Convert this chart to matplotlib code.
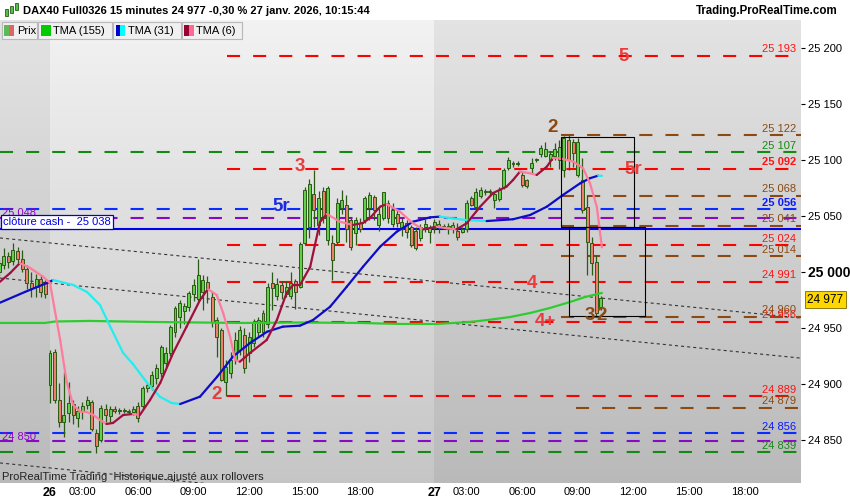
import numpy as np
import matplotlib
matplotlib.use("Agg")
import matplotlib.pyplot as plt
from matplotlib.patches import Rectangle
from matplotlib.collections import LineCollection

plt.rcParams['font.family'] = ['Liberation Sans', 'DejaVu Sans']
plt.rcParams['lines.scale_dashes'] = False

# ---------------- data ----------------
first_bar = -11
opens = [25000, 25006, 25014, 25010, 25019, 25012, 25003, 24990, 24987, 24994, 24990,
         24899, 24929, 24886, 24866, 24874, 24882, 24870, 24876, 24881, 24884, 24856,
         24850, 24878, 24871, 24878, 24876, 24877, 24876, 24875, 24880, 24880, 24896,
         24898, 24905, 24910, 24919, 24928, 24946, 24960, 24965, 24969, 24980, 24976,
         24982, 24991, 24978, 24957, 24948, 24902, 24910, 24921, 24930, 24944, 24928,
         24937, 24946, 24946, 24954, 24990, 24979, 24988, 24980, 24979, 24992, 24987,
         25026, 25040, 25070, 25042, 25072, 25029, 25026, 25027, 25057, 25060, 25046,
         25035, 25044, 25046, 25057, 25067, 25042, 25048, 25062, 25043, 25052, 25038,
         25044, 25040, 25037, 25030, 25040, 25036, 25039, 25043, 25040, 25041, 25038,
         25037, 25036, 25038, 25066, 25058, 25068, 25072, 25071, 25064, 25065, 25076,
         25093, 25096, 25097, 25087, 25082, 25093, 25100, 25105, 25104, 25100, 25104,
         25100, 25091, 25118, 25116, 25087, 25082, 25058, 25026, 25009, 24969]
highs = [25012, 25021, 25018, 25026, 25022, 25020, 25006, 25000, 24998, 24997, 24993,
         24930, 24931, 24901, 24911, 24902, 24886, 24880, 24884, 24889, 24886, 24860,
         24881, 24882, 24880, 24880, 24879, 24879, 24878, 24880, 24884, 24898, 24901,
         24912, 24918, 24935, 24933, 24953, 24970, 24975, 24972, 24983, 24994, 25012,
         24997, 24996, 24982, 24960, 24950, 24921, 24929, 24946, 24952, 24950, 24946,
         24958, 24960, 24966, 24990, 25000, 24995, 24992, 24992, 25000, 24994, 25027,
         25076, 25083, 25091, 25072, 25076, 25077, 25033, 25066, 25073, 25069, 25049,
         25049, 25048, 25068, 25071, 25069, 25058, 25071, 25064, 25062, 25056, 25048,
         25046, 25042, 25040, 25043, 25047, 25042, 25047, 25046, 25043, 25044, 25045,
         25044, 25040, 25064, 25068, 25075, 25076, 25074, 25074, 25071, 25076, 25093,
         25103, 25099, 25099, 25089, 25083, 25102, 25102, 25113, 25116, 25108, 25115,
         25118, 25121, 25122, 25119, 25120, 25102, 25069, 25031, 25015, 24979]
lows = [24996, 25003, 25004, 25006, 25008, 25000, 24985, 24978, 24978, 24978, 24977,
        24883, 24883, 24862, 24853, 24866, 24864, 24862, 24869, 24878, 24858, 24838,
        24848, 24866, 24866, 24874, 24873, 24874, 24873, 24872, 24866, 24878, 24893,
        24895, 24900, 24906, 24915, 24925, 24942, 24950, 24954, 24965, 24974, 24974,
        24966, 24972, 24951, 24924, 24903, 24889, 24905, 24918, 24926, 24910, 24920,
        24933, 24942, 24942, 24950, 24966, 24975, 24976, 24978, 24976, 24967, 24986,
        25024, 25030, 25040, 25033, 25044, 25024, 24993, 25024, 25052, 25027, 25020,
        25024, 25036, 25044, 25046, 25046, 25037, 25046, 25044, 25040, 25040, 25032,
        25030, 25022, 25020, 25028, 25036, 25026, 25035, 25035, 25038, 25034, 25035,
        25029, 25035, 25036, 25059, 25054, 25066, 25069, 25068, 25057, 25063, 25074,
        25091, 25094, 25095, 25076, 25075, 25088, 25098, 25103, 25103, 25094, 25100,
        25092, 25085, 25091, 25094, 25085, 25053, 24997, 24997, 24960, 24966]
closes = [25008, 25014, 25009, 25020, 25012, 25003, 24990, 24986, 24994, 24982, 24980,
          24928, 24886, 24866, 24872, 24883, 24872, 24876, 24880, 24886, 24860, 24845,
          24879, 24872, 24878, 24876, 24877, 24876, 24875, 24878, 24870, 24896, 24899,
          24908, 24914, 24933, 24928, 24951, 24968, 24972, 24970, 24981, 24988, 24997,
          24993, 24986, 24955, 24942, 24904, 24915, 24921, 24939, 24948, 24914, 24942,
          24955, 24957, 24963, 24987, 24986, 24989, 24982, 24987, 24990, 24982, 25025,
          25073, 25079, 25055, 25066, 25048, 25075, 25011, 25062, 25064, 25038, 25022,
          25046, 25038, 25066, 25069, 25055, 25052, 25071, 25048, 25055, 25044, 25045,
          25036, 25024, 25021, 25040, 25043, 25039, 25045, 25040, 25041, 25038, 25042,
          25031, 25038, 25062, 25060, 25071, 25073, 25071, 25072, 25070, 25073, 25091,
          25100, 25097, 25096, 25078, 25077, 25097, 25101, 25111, 25110, 25105, 25110,
          25112, 25120, 25100, 25106, 25116, 25055, 25027, 25008, 24963, 24977]

tma155_x = [-10.8, -1.1, 1.1, 8.6, 21.6, 41.0, 54.0, 67.0, 75.6, 83.6, 90.7, 94.4,
            99.4, 103.7, 108.0, 112.3, 115.6, 119.2]
tma155_y = [24954.5, 24954.5, 24955.8, 24956.3, 24955.4, 24954.5, 24954.9, 24954.5,
            24953.6, 24953.6, 24955.4, 24957.1, 24959.8, 24963.4, 24967.9, 24973.2,
            24977.7, 24981.3]

tma31_x = [-10.8, -5.4, 0.0, 0.65, 5.0, 8.0, 10.8, 13.0, 15.8, 17.9, 21.0, 23.8, 26.3,
           28.1, 32.4, 36.1, 39.5, 43.2, 46.9, 50.3, 54.0, 56.8, 60.5, 64.1, 67.6, 71.3,
           74.9, 78.4, 82.1, 84.2, 87.0, 90.0, 94.3, 100.0, 103.7, 107.3, 110.8, 114.5,
           116.6, 118.4, 119.2]
tma31_y = [24972.6, 24982.2, 24991.3, 24992.9, 24988.4, 24982.1, 24970.5, 24951.2,
           24927.7, 24917.9, 24900.9, 24888.4, 24883.0, 24882.1, 24888.7, 24906.5,
           24924.4, 24936.6, 24946.7, 24951.2, 24952.1, 24957.1, 24969.0, 24986.9,
           25004.7, 25022.6, 25036.0, 25044.9, 25048.8, 25049.4, 25047.8, 25046.4,
           25045.5, 25047.1, 25050.9, 25058.3, 25068.8, 25079.2, 25083.7, 25086.0,
           25085.8]

tma6_x = [-10.8, -8.6, -6.5, -4.3, -1.5, 0.0, 1.1, 2.2, 3.6, 5.0, 6.5, 7.9, 9.3, 10.8,
          12.2, 13.6, 15.8, 17.9, 19.4, 21.6, 23.8, 26.6, 29.5, 32.4, 34.1, 36.0, 37.4,
          38.9, 40.0, 41.0, 43.2, 46.8, 49.0, 51.1, 52.5, 54.0, 56.2, 58.3, 59.8, 62.6,
          65.4, 67.6, 69.1, 71.3, 72.7, 75.6, 78.4, 80.6, 83.5, 85.7, 87.8, 90.0, 92.9,
          95.7, 98.6, 100.0, 101.5, 103.7, 105.1, 107.3, 108.6, 110.2, 113.0, 115.1,
          116.6, 118.1, 119.2]
tma6_y = [24991.3, 24999.1, 25008.0, 25003.6, 24995.8, 24990.2, 24964.3, 24939.3,
          24901.8, 24881.3, 24875.3, 24875.0, 24872.5, 24867.9, 24864.3, 24865.2,
          24872.3, 24873.2, 24872.3, 24885.7, 24900.9, 24927.7, 24951.2, 24975.0,
          24984.8, 24979.5, 24963.4, 24942.2, 24921.4, 24919.9, 24927.7, 24939.3,
          24957.1, 24981.3, 24988.4, 24988.4, 25004.7, 25044.6, 25051.8, 25044.9,
          25042.0, 25043.8, 25048.2, 25058.3, 25060.7, 25053.8, 25043.5, 25038.1,
          25040.4, 25039.0, 25038.1, 25043.5, 25058.3, 25070.5, 25076.2, 25082.1,
          25089.6, 25088.1, 25086.6, 25094.0, 25101.8, 25101.5, 25098.5, 25092.9,
          25079.5, 25058.3, 25022.0]

full_levels = [25107, 25056, 25048, 24856, 24849.5, 24839]
full_colors = ['#138a13', '#0a2cff', '#8a08c8', '#0a2cff', '#8a08c8', '#138a13']
red_levels = [25193, 25092, 25024, 24991, 24955.6, 24889]
red_start = 38.2
brown_levels = [25122, 25068, 25041, 25014, 24960, 24879]
brown_starts = [110.3, 110.3, 110.3, 110.3, 110.3, 113.5]
cash_close = 25038
current_price = 24977

right_labels = [(25193, '25 193', 'red', False), (25122, '25 122', 'brown', False),
                (25107, '25 107', 'green', False), (25092, '25 092', 'red', True),
                (25068, '25 068', 'brown', False), (25056, '25 056', 'blue', True),
                (25041, '25 041', 'brown', False), (25024, '25 024', 'red', False),
                (25014, '25 014', 'brown', False), (24991, '24 991', 'red', False),
                (24955.6, '24 956', 'red', False), (24960, '24 960', 'brown', False),
                (24889, '24 889', 'red', False), (24879, '24 879', 'brown', False),
                (24856, '24 856', 'blue', False), (24839, '24 839', 'green', False)]
left_labels = [(25056, '25 048'), (24856, '24 850')]

trend_starts = [25030.4, 24994.6, 24829.5]
trend_ends = [24958.9, 24923.1, 24758.0]

rects = [(110.3, 25040.5, 126.2, 25120.3), (112.2, 24960.7, 128.4, 25040.5)]

wave_labels = [('5', 124.0, 25192.5, 'red'), ('2', 108.6, 25128.6, 'brown'),
               ('5r', 125.9, 25091.7, 'red'), ('3', 54.0, 25094.6, 'red'),
               ('5r', 50.0, 25058.3, 'blue'), ('4', 104.0, 24989.9, 'red'),
               ('4+', 106.9, 24955.6, 'red'), ('2', 36.0, 24890.2, 'red'),
               ('3', 116.6, 24961.6, 'brown'), ('2', 119.2, 24961.6, 'brown')]

xtick_bars = [0, 7, 19, 31, 43, 55, 67, 83, 90, 102, 114, 126, 138, 150]
xtick_labels = ['26', '03:00', '06:00', '09:00', '12:00', '15:00', '18:00',
                '27', '03:00', '06:00', '09:00', '12:00', '15:00', '18:00']
ytick_vals = [24850, 24900, 24950, 25000, 25050, 25100, 25150, 25200]
ytick_labels = ['24 850', '24 900', '24 950', '25 000', '25 050', '25 100', '25 150', '25 200']

# ---------------- styles ----------------
LABEL_COL = {'red': '#ff1414', 'brown': '#8b4a12', 'green': '#138a13', 'blue': '#0a1aff'}
WAVE_COL = {'red': '#ea3c3c', 'brown': '#8b4a12', 'blue': '#1a2ae0'}
DASH = (9.4, 9.4)

W, H = 850, 500
fig = plt.figure(figsize=(8.5, 5), dpi=100, facecolor='white')

def fx(px):
    return px / W

def fy(py):
    return 1 - py / H

XMIN, XMAX = -10.8, 162.2
YMIN, YMAX = 24811.6, 25225.0
ax = fig.add_axes([0, fy(483), fx(801), (483 - 20) / H])

# background gradient
g = np.linspace(0.95, 0.775, 200)[:, None]
img = np.repeat(g[:, :, None], 3, axis=2)
ax.imshow(img, extent=[XMIN, XMAX, YMIN, YMAX], aspect='auto', origin='upper',
          zorder=0, interpolation='bilinear')
ax.axvspan(XMIN, 0, color='black', alpha=0.06, lw=0, zorder=0.5)
ax.axvspan(83, XMAX, color='black', alpha=0.06, lw=0, zorder=0.5)

# trend lines
for a, b in zip(trend_starts, trend_ends):
    ax.plot([XMIN, XMAX], [a, b], color='#333333', lw=0.8, dashes=(2.2, 2.2), zorder=2)

# level lines
for p, col in zip(full_levels, full_colors):
    ax.plot([XMIN, XMAX], [p, p], color=col, lw=1.5, dashes=DASH, zorder=2.5)
for p in red_levels:
    ax.plot([red_start, XMAX], [p, p], color='#ff0000', lw=1.5, dashes=DASH, zorder=2.5)
for p, s in zip(brown_levels, brown_starts):
    ax.plot([s, XMAX], [p, p], color='#8b4a12', lw=1.5, dashes=DASH, zorder=2.5)
ax.plot([XMIN, XMAX], [cash_close, cash_close], color='#0000ee', lw=1.5, zorder=2.6)

# candles
o = np.array(opens, float)
hh = np.array(highs, float)
ll = np.array(lows, float)
c = np.array(closes, float)
bars = np.arange(first_bar, first_bar + len(o))
up = c >= o
ax.vlines(bars, ll, hh, color='#2b5a14', lw=0.9, zorder=3)
body_bottom = np.minimum(o, c)
body_h = np.maximum(np.abs(c - o), 0.9)
ax.bar(bars, body_h, bottom=body_bottom, width=0.64,
       color=np.where(up, '#62d04c', '#ef7f6c'), edgecolor='#2b5a14',
       linewidth=0.7, zorder=3.2)

# TMA lines
def colored_line(xs, ys, cu, cd, lw, z):
    xs = np.asarray(xs, float)
    ys = np.asarray(ys, float)
    pts = np.column_stack([xs, ys])
    segs = np.stack([pts[:-1], pts[1:]], axis=1)
    cols = [cu if ys[i + 1] >= ys[i] else cd for i in range(len(ys) - 1)]
    lc = LineCollection(segs, colors=cols, linewidths=lw, capstyle='round',
                        joinstyle='round', zorder=z)
    ax.add_collection(lc)

ax.plot(tma155_x, tma155_y, color='#2ecc2e', lw=1.6, zorder=4, solid_capstyle='round')
colored_line(tma31_x, tma31_y, '#0c0cc8', '#22eef0', 1.6, 4.1)
colored_line(tma6_x, tma6_y, '#a0103c', '#ff7b9c', 1.6, 4.2)

# rectangles
for x0, y0, x1, y1 in rects:
    ax.add_patch(Rectangle((x0, y0), x1 - x0, y1 - y0, fill=False,
                           edgecolor='black', lw=0.8, zorder=5))

# wave labels
for t, xb, yp, col in wave_labels:
    ax.text(xb, yp, t, color=WAVE_COL[col], fontsize=13.5, fontweight='bold',
            ha='center', va='center', zorder=6)

# right-side level labels
for p, t, col, bold in right_labels:
    ax.annotate(t, xy=(0.994, p), xycoords=('axes fraction', 'data'),
                xytext=(0, 2.6), textcoords='offset points', ha='right', va='baseline',
                color=LABEL_COL[col], fontsize=8, fontweight='bold' if bold else 'normal',
                zorder=6)
for p, t in left_labels:
    ax.annotate(t, xy=(0.0, p), xycoords=('axes fraction', 'data'),
                xytext=(1.5, -2.5), textcoords='offset points', ha='left', va='center',
                color='#8a08c8', fontsize=8, zorder=6)

# cash close label
ax.annotate('clôture cash -  ' + '25 038', xy=(0.0, cash_close), xycoords=('axes fraction', 'data'),
            xytext=(2.2, 5.6), textcoords='offset points', ha='left', va='center',
            color='#0000dd', fontsize=8, zorder=7,
            bbox=dict(boxstyle='square,pad=0.18', fc='white', ec='#0000dd', lw=0.9))

# current price label
ax.annotate('24 977', xy=(1.0, current_price), xycoords=('axes fraction', 'data'),
            xytext=(4.5, -1.5), textcoords='offset points', ha='left', va='center',
            color='black', fontsize=8.5, annotation_clip=False, zorder=7,
            bbox=dict(boxstyle='square,pad=0.2', fc='#ffd700', ec='#7a6a00', lw=0.6))

ax.text(0.003, (483 - 477) / 463, 'ProRealTime Trading  Historique ajusté aux rollovers',
        transform=ax.transAxes, color='#222222', fontsize=8, ha='left', va='center',
        zorder=7)

ax.set_xlim(XMIN, XMAX)
ax.set_ylim(YMIN, YMAX)
for s in ax.spines.values():
    s.set_visible(False)

ax.set_xticks(xtick_bars)
ax.set_xticklabels(xtick_labels)
ax.tick_params(axis='x', length=0, pad=3.0, labelsize=8)
for lab in ax.get_xticklabels():
    if lab.get_text() in ('26', '27'):
        lab.set_fontweight('bold')
        lab.set_fontsize(9)

ax.yaxis.tick_right()
ax.set_yticks(ytick_vals)
ax.set_yticklabels(ytick_labels)
ax.tick_params(axis='y', length=3, width=0.8, pad=2, labelsize=8)
for lab in ax.get_yticklabels():
    if lab.get_text() == '25 000':
        lab.set_fontweight('bold')
        lab.set_fontsize(10)

# ---------------- header & legend ----------------
fig.text(fx(23), fy(11), 'DAX40 Full0326 15 minutes 24 977 -0,30 % 27 janv. 2026, 10:15:44',
         fontsize=8, fontweight='bold', ha='left', va='center')
fig.text(fx(838), fy(11), 'Trading.ProRealTime.com', fontsize=8.3, fontweight='bold',
         ha='right', va='center')

def fig_rect(x0, y0, x1, y1, fc, ec='none', lw=0.0, z=10):
    fig.patches.append(Rectangle((fx(x0), fy(y1)), (x1 - x0) / W, (y1 - y0) / H,
                                 transform=fig.transFigure, facecolor=fc, edgecolor=ec,
                                 lw=lw, zorder=z, figure=fig))

# header icon
for (x0, y0, x1, y1) in [(5, 9, 8, 16), (10, 6, 13, 13), (15, 3, 18, 10)]:
    fig_rect(x0, y0, x1, y1, '#4ec24e', '#2b5a14', 0.6)

legend_boxes = [(1.7, 36.7), (38, 112), (113, 180.5), (181.5, 242)]
legend_texts = ['Prix', 'TMA (155)', 'TMA (31)', 'TMA (6)']
legend_icons = [('#5dbb55', '#e06464'), ('#00cc00', '#00cc00'),
                ('#0000cc', '#00ffff'), ('#990033', '#ff6a90')]
for (x0, x1), t, (c1, c2) in zip(legend_boxes, legend_texts, legend_icons):
    fig_rect(x0, 21.7, x1, 39.3, '#f0f0f0', '#b8b8b8', 0.8)
    fig_rect(x0 + 2.5, 25.5, x0 + 7.5, 35.5, c1, z=11)
    fig_rect(x0 + 7.5, 25.5, x0 + 12.5, 35.5, c2, z=11)
    fig.text(fx(x0 + 15), fy(30.5), t, fontsize=8, ha='left', va='center', zorder=12)

fig.savefig('out.png', dpi=100, facecolor='white')
